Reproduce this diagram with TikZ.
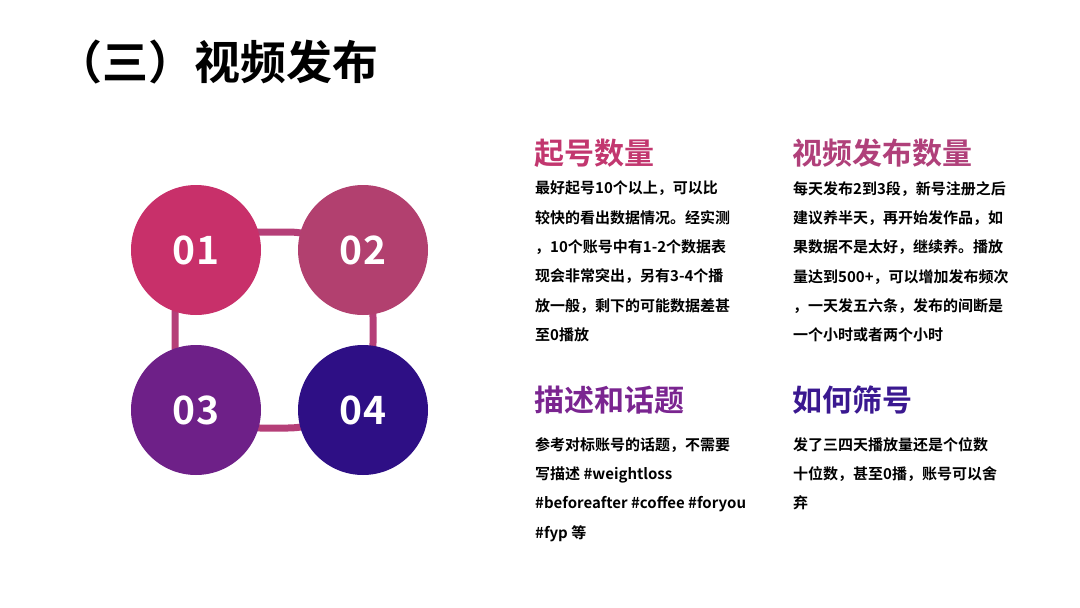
\documentclass[tikz,border=0pt]{standalone}
\usepackage{fontspec}
\setmainfont{Noto Sans CJK SC}[BoldFont={* Bold}]
\newfontfamily\cjkb{Noto Sans CJK SC Bold}
\definecolor{c1}{HTML}{C8306A}
\definecolor{c2}{HTML}{B2406F}
\definecolor{c3}{HTML}{6E2088}
\definecolor{c4}{HTML}{2E0F85}
\definecolor{ring}{HTML}{B53F78}
\definecolor{h1}{HTML}{C2376F}
\definecolor{h2}{HTML}{B0407A}
\definecolor{h3}{HTML}{7A2590}
\definecolor{h4}{HTML}{3A1890}
\tikzset{
  num/.style={circle,minimum size=130pt,inner sep=0pt,text=white,font=\cjkb\fontsize{39}{40}\selectfont},
  head/.style={anchor=west,inner sep=0pt,font=\cjkb\fontsize{30}{32}\selectfont},
  body/.style={anchor=north west,inner sep=0pt,align=left,font=\cjkb\fontsize{15}{29.3}\selectfont},
}
\begin{document}
\begin{tikzpicture}[x=1pt,y=-1pt]
\useasboundingbox (0,0) rectangle (1080,608);
\node[anchor=west,inner sep=0pt,font=\cjkb\fontsize{46}{48}\selectfont] (title) at (56,62) {（三）视频发布};
\draw[ring,line width=7pt,rounded corners=85pt] (175,232) rectangle (373,428);
\node[num,fill=c1] (n1) at (196,250) {01};
\node[num,fill=c2] (n2) at (363,250) {02};
\node[num,fill=c3] (n3) at (196,410) {03};
\node[num,fill=c4] (n4) at (363,410) {04};
\node[head,text=h1] (t1) at (534,153) {起号数量};
\node[head,text=h2] (t2) at (792,153) {视频发布数量};
\node[head,text=h3] (t3) at (534,400) {描述和话题};
\node[head,text=h4] (t4) at (792,400) {如何筛号};
\node[body] (b1) at (535,181) {最好起号10个以上，可以比\\较快的看出数据情况。经实测\\，10个账号中有1-2个数据表\\现会非常突出，另有3-4个播\\放一般，剩下的可能数据差甚\\至0播放};
\node[body] (b2) at (793,181) {每天发布2到3段，新号注册之后\\建议养半天，再开始发作品，如\\果数据不是太好，继续养。播放\\量达到500+，可以增加发布频次\\，一天发五六条，发布的间断是\\一个小时或者两个小时};
\node[body] (b3) at (535,437) {参考对标账号的话题，不需要\\写描述 \#weightloss\\\#beforeafter \#coffee \#foryou\\\#fyp 等};
\node[body] (b4) at (793,437) {发了三四天播放量还是个位数\\十位数，甚至0播，账号可以舍\\弃};
\end{tikzpicture}
\end{document}
